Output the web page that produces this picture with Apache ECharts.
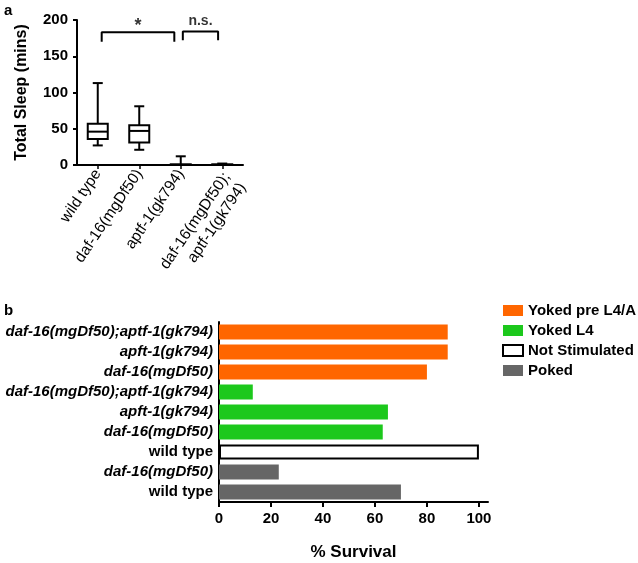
<!DOCTYPE html>
<html><head><meta charset="utf-8">
<script src="https://cdn.jsdelivr.net/npm/echarts@6/dist/echarts.min.js"></script>
<style>html,body{margin:0;padding:0;background:#fff}#c{width:638px;height:563px}</style>
</head><body><div id="c"></div>
<script>
// ---- Panel a: total sleep boxplot ----
const sleepCategories = ['wild type', 'daf-16(mgDf50)', 'aptf-1(gk794)', 'daf-16(mgDf50);\naptf-1(gk794)'];
// [min, Q1, median, Q3, max]
const sleepWildType = [27, 36, 46, 57, 113];
const sleepDaf16 = [21, 31, 47, 55, 81];
const sleepAptf1 = [0, 0, 0, 1, 12];
const sleepDouble = [0, 0, 0, 1, 2];
const sleepTicks = [0, 50, 100, 150, 200];
// significance brackets (category index positions)
const bracketStart = [0.095, 2.05];
const bracketEnd = [1.845, 2.9];
const bracketTop = [183, 184];
const bracketLeg = [170, 172];
const bracketText = ['*', 'n.s.'];
const bracketTextValue = [191, 199];

// ---- Panel b: survival bars (bottom to top) ----
const survivalCategories = ['wild type', 'daf-16(mgDf50)', 'wild type', 'daf-16(mgDf50)', 'apft-1(gk794)',
  'daf-16(mgDf50);aptf-1(gk794)', 'daf-16(mgDf50)', 'apft-1(gk794)', 'daf-16(mgDf50);aptf-1(gk794)'];
const survivalValues = [70, 23, 100, 63, 65, 13, 80, 88, 88];
const survivalGroupIndex = [3, 3, 2, 1, 1, 1, 0, 0, 0];
const groupNames = ['Yoked pre L4/A', 'Yoked L4', 'Not Stimulated', 'Poked'];
const survivalTicks = [0, 20, 40, 60, 80, 100];

const FONT = '"Liberation Sans", Arial, Helvetica, sans-serif';
const groupStyles = [
  { color: '#FF6600' },
  { color: '#1CC81C' },
  { color: '#FFFFFF', borderColor: '#000000', borderWidth: 2 },
  { color: '#666666' }
];

const chart = echarts.init(document.getElementById('c'));

const bracketSeries = bracketStart.map((s, i) => ({
  type: 'line', xAxisIndex: 1, yAxisIndex: 2, symbol: 'none', silent: true,
  lineStyle: { color: '#000', width: 2 },
  data: [[s, bracketLeg[i]], [s, bracketTop[i]], [bracketEnd[i], bracketTop[i]], [bracketEnd[i], bracketLeg[i]]]
}));

const barSeries = groupNames.map((g, gi) => ({
  type: 'bar', name: g, xAxisIndex: 2, yAxisIndex: 1,
  barWidth: 15, barGap: '-100%',
  itemStyle: groupStyles[gi],
  data: survivalValues.map((v, i) => survivalGroupIndex[i] === gi ? v : '-')
}));

const boxData = [sleepWildType, sleepDaf16, sleepAptf1, sleepDouble].map((b, i) => [i].concat(b));

function renderBox(params, api) {
  const i = api.value(0);
  const pMin = api.coord([i, api.value(1)]);
  const pQ1 = api.coord([i, api.value(2)]);
  const pMed = api.coord([i, api.value(3)]);
  const pQ3 = api.coord([i, api.value(4)]);
  const pMax = api.coord([i, api.value(5)]);
  const x = pMed[0];
  const bw = 10, cw = 5;
  const st = { stroke: '#000', lineWidth: 2, fill: 'none' };
  return {
    type: 'group',
    children: [
      { type: 'line', shape: { x1: x, y1: pQ3[1], x2: x, y2: pMax[1] }, style: st },
      { type: 'line', shape: { x1: x, y1: pQ1[1], x2: x, y2: pMin[1] }, style: st },
      { type: 'line', shape: { x1: x - cw, y1: pMax[1], x2: x + cw, y2: pMax[1] }, style: st },
      { type: 'line', shape: { x1: x - cw, y1: pMin[1], x2: x + cw, y2: pMin[1] }, style: st },
      { type: 'rect', shape: { x: x - bw, y: pQ3[1], width: 2 * bw, height: pQ1[1] - pQ3[1] }, style: { stroke: '#000', lineWidth: 2, fill: '#fff' } },
      { type: 'line', shape: { x1: x - bw, y1: pMed[1], x2: x + bw, y2: pMed[1] }, style: st }
    ]
  };
}

chart.setOption({
  animation: false,
  textStyle: { fontFamily: FONT },
  graphic: [
    { type: 'text', left: 4, top: 3, style: { text: 'a', font: 'bold 15px ' + FONT, fill: '#000' } },
    { type: 'text', left: 4, top: 303, style: { text: 'b', font: 'bold 15px ' + FONT, fill: '#000' } }
  ],
  legend: {
    orient: 'vertical', left: 497, top: 298, itemWidth: 20, itemHeight: 11, itemGap: 5,
    icon: 'rect',
    textStyle: { fontFamily: FONT, fontWeight: 'bold', fontSize: 15, color: '#000' },
    data: groupNames.map((g, gi) => ({ name: g, itemStyle: groupStyles[gi] }))
  },
  grid: [
    { left: 77, top: 20, width: 166, height: 145 },
    { left: 219, top: 322, width: 269, height: 180 },
    { left: 77, top: 20, width: 166, height: 145 }
  ],
  xAxis: [
    {
      type: 'category', gridIndex: 0, data: sleepCategories,
      axisLine: { onZero: false, lineStyle: { color: '#000', width: 2 } },
      axisTick: { show: true, alignWithLabel: true, length: 4, lineStyle: { color: '#000', width: 1.5 } },
      axisLabel: {
        interval: 0, rotate: 56, fontSize: 15.5, color: '#000', margin: 6, fontFamily: FONT, lineHeight: 19,
        formatter: (v) => v.indexOf('\n') >= 0 ? '{p| }\n' + v : v,
        rich: { p: { lineHeight: 30, fontSize: 4 } }
      }
    },
    { type: 'value', gridIndex: 2, min: -0.5, max: 3.5, show: false },
    {
      type: 'value', gridIndex: 1, min: 0, max: 103.5, interval: 20,
      name: '% Survival', nameLocation: 'middle', nameGap: 42,
      nameTextStyle: { fontFamily: FONT, fontWeight: 'bold', fontSize: 17, color: '#000' },
      axisLine: { show: true, onZero: false, lineStyle: { color: '#000', width: 2 } },
      axisTick: { show: true, length: 5, customValues: survivalTicks, lineStyle: { color: '#000', width: 2 } },
      axisLabel: { customValues: survivalTicks, fontFamily: FONT, fontWeight: 'bold', fontSize: 15, color: '#000', margin: 9 },
      splitLine: { show: false }
    }
  ],
  yAxis: [
    {
      type: 'value', gridIndex: 0, min: 0, max: 200, interval: 50,
      name: 'Total Sleep (mins)', nameLocation: 'middle', nameGap: 47,
      nameTextStyle: { fontFamily: FONT, fontWeight: 'bold', fontSize: 16, color: '#000' },
      axisLine: { show: true, onZero: false, lineStyle: { color: '#000', width: 2 } },
      axisTick: { show: true, length: 4, customValues: sleepTicks, lineStyle: { color: '#000', width: 2 } },
      axisLabel: { customValues: sleepTicks, fontFamily: FONT, fontWeight: 'bold', fontSize: 15, color: '#000', margin: 9 },
      splitLine: { show: false }
    },
    {
      type: 'category', gridIndex: 1, data: survivalCategories,
      axisLine: { show: true, onZero: false, lineStyle: { color: '#000', width: 2 } },
      axisTick: { show: false },
      axisLabel: {
        interval: 0, margin: 6, color: '#000',
        formatter: (v) => v === 'wild type' ? '{n|' + v + '}' : '{i|' + v + '}',
        rich: {
          n: { fontFamily: FONT, fontWeight: 'bold', fontSize: 15, color: '#000' },
          i: { fontFamily: FONT, fontWeight: 'bold', fontStyle: 'italic', fontSize: 15, color: '#000' }
        }
      }
    },
    { type: 'value', gridIndex: 2, min: 0, max: 200, show: false }
  ],
  series: [
    {
      type: 'custom', xAxisIndex: 0, yAxisIndex: 0, renderItem: renderBox, silent: true,
      encode: { x: 0, y: [1, 2, 3, 4, 5] },
      data: boxData
    },
    ...bracketSeries,
    {
      type: 'scatter', xAxisIndex: 1, yAxisIndex: 2, symbolSize: 0, clip: false, silent: true,
      data: bracketStart.map((s, i) => [(s + bracketEnd[i]) / 2, bracketTextValue[i]]),
      label: {
        show: true, position: 'inside', color: '#000', fontFamily: FONT, fontWeight: 'bold',
        formatter: (p) => bracketText[p.dataIndex] === '*' ? '{s|*}' : '{t|n.s.}',
        rich: { s: { fontSize: 18, fontWeight: 'bold', color: '#000' }, t: { fontSize: 14, fontWeight: 'bold', color: '#000' } }
      }
    },
    ...barSeries
  ]
});
</script>
</body></html>
